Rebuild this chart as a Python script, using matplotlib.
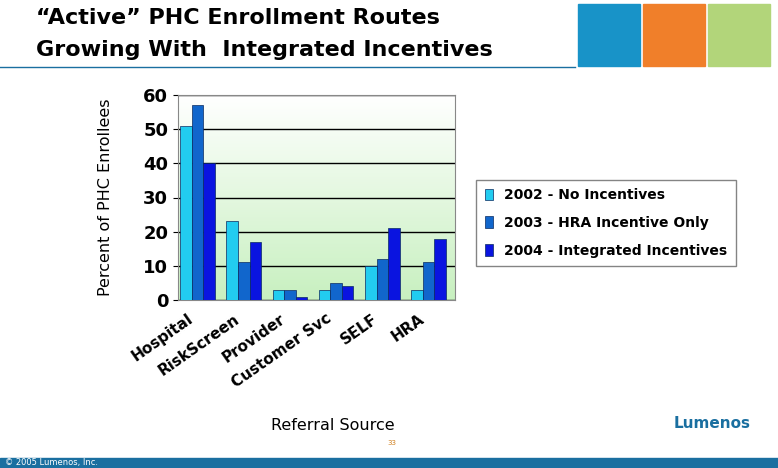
import matplotlib
matplotlib.use("Agg")
import matplotlib.pyplot as plt
import numpy as np
from matplotlib.patches import Rectangle
from matplotlib.colors import LinearSegmentedColormap

categories = ["Hospital", "RiskScreen", "Provider", "Customer Svc", "SELF", "HRA"]
series_names = ["2002 - No Incentives", "2003 - HRA Incentive Only", "2004 - Integrated Incentives"]
v2002 = [51, 23, 3, 3, 10, 3]
v2003 = [57, 11, 3, 5, 12, 11]
v2004 = [40, 17, 1, 4, 21, 18]
colors = ["#22ccf0", "#1166cc", "#0a14e0"]
yticks = [0, 10, 20, 30, 40, 50, 60]

fig = plt.figure(figsize=(7.78, 4.68), dpi=100)
W, H = 778, 468
def fx(px): return px / W
def fy(py): return 1 - py / H

fig.text(fx(36), fy(18), "\u201cActive\u201d PHC Enrollment Routes", fontsize=16, weight="bold", va="center", ha="left")
fig.text(fx(36), fy(50), "Growing With  Integrated Incentives", fontsize=16, weight="bold", va="center", ha="left")
fig.add_artist(plt.Line2D([0, fx(575)], [fy(67), fy(67)], color="#1a6fa0", lw=1))
for x0, c in [(578, "#1893c8"), (643, "#f07f2a"), (708, "#b2d57a")]:
    fig.add_artist(Rectangle((fx(x0), fy(66)), 62 / W, 62 / H, color=c, transform=fig.transFigure))
fig.add_artist(Rectangle((0, 0), 1, 10 / H, color="#1a6fa0", transform=fig.transFigure))
fig.text(fx(5), fy(462), "\u00a9 2005 Lumenos, Inc.", fontsize=6, color="white", va="center")
fig.text(fx(392), fy(445), "33", fontsize=5, color="#d08020", ha="center")
fig.text(fx(712), fy(428), "Lumenos", fontsize=11, color="#1a6fa0", ha="center", weight="bold")

ax = fig.add_axes([fx(178), fy(300), (455 - 178) / W, (300 - 95) / H])
grad = np.linspace(0, 1, 100).reshape(-1, 1)
cm = LinearSegmentedColormap.from_list("g", ["#c8f0c0", "#ffffff"])
ax.imshow(grad, extent=[-0.5, 6.5, 0, 60], aspect="auto", cmap=cm, origin="lower", zorder=0)
x = np.arange(len(categories))
w = 0.25
for i, (vals, c, name) in enumerate(zip([v2002, v2003, v2004], colors, series_names)):
    ax.bar(x - 0.45 + w * i + w / 2, vals, w, color=c, edgecolor="#0a2a60", lw=0.5, label=name, zorder=3)
ax.set_xlim(-0.5, 5.5)
ax.set_ylim(0, 60)
ax.set_yticks(yticks)
ax.set_yticklabels([str(t) for t in yticks], fontsize=13, weight="bold")
ax.grid(axis="y", color="black", lw=1, zorder=1)
ax.set_xticks(x - 0.3)
ax.set_xticklabels(categories, rotation=35, ha="right", rotation_mode="anchor", fontsize=11, weight="bold")
ax.tick_params(axis="x", length=0, pad=8)
for s in ax.spines.values():
    s.set_color("#888888")
ax.set_ylabel("Percent of PHC Enrollees", fontsize=11.5, labelpad=22)
fig.text(fx(333), fy(426), "Referral Source", fontsize=11.5, ha="center", va="center")

leg = fig.legend(loc="center", bbox_to_anchor=(fx(606), fy(223)), fontsize=10, frameon=True,
                 edgecolor="#666666", fancybox=False, handlelength=0.6, handleheight=0.9,
                 labelspacing=1.0, borderpad=0.6)
for t in leg.get_texts():
    t.set_weight("bold")
fig.savefig("out.png", dpi=100)
